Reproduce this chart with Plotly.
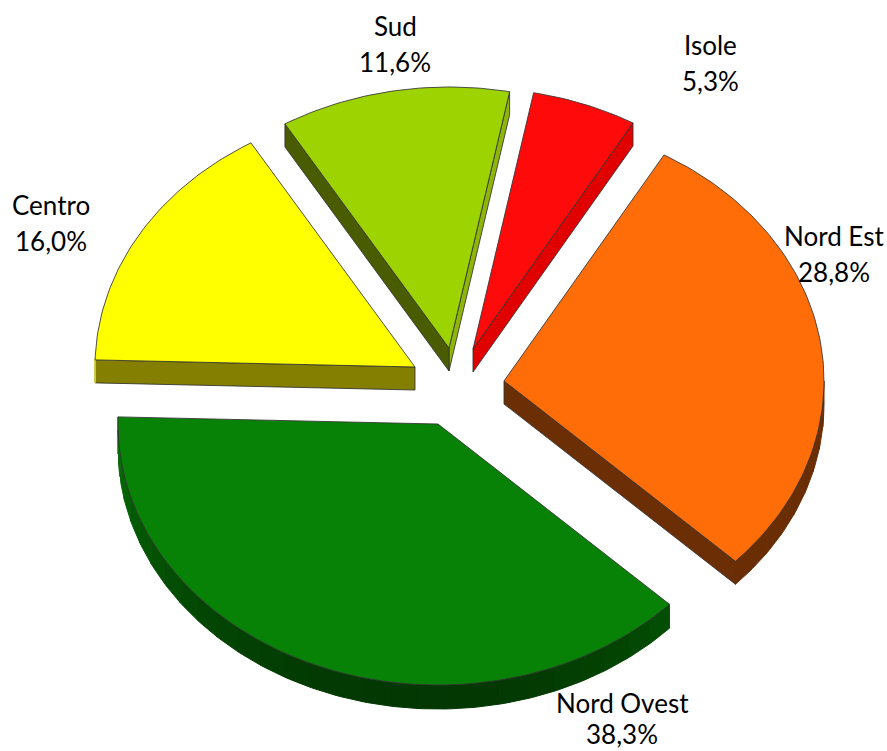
import math
import plotly.graph_objects as go

# Data
categories = ["Nord Est", "Nord Ovest", "Centro", "Sud", "Isole"]
shares = [28.8, 38.3, 16.0, 11.6, 5.3]

# Styling / layout constants
top_colors = ["#ff6d09", "#078207", "#ffff00", "#9dd300", "#ff0a0a"]
cut_colors = ["#6b2e05", None, "#857f00", "#4a5c00", "#e00000"]
cut_side = [1, None, 0, 0, 1]  # which radial edge of the slice shows a wall
right_cut_colors = [None, None, None, "#8eb50a", None]
apex_x = [504, 438, 415, 449, 473]
apex_y = [381, 424, 367, 348, 349]
label_x = [834, 622, 51, 395, 710]
label_y = [236, 703, 205, 26, 45]
value_gap = [36, 31, 36, 36, 36]
RX, RY, DEPTH = 320, 261, 23
START_ANGLE = 30.0
EDGE = "rgba(50,50,50,0.85)"
FONT = dict(family="Lato, Carlito, sans-serif", size=26, color="#000000")


def pt(ax, ay, deg, dy=0.0):
    t = math.radians(deg)
    return ax + RX * math.sin(t), ay - RY * math.cos(t) + dy


def arc(ax, ay, a0, a1, dy=0.0, step=1.0):
    n = max(2, int(abs(a1 - a0) / step) + 1)
    return [pt(ax, ay, a0 + (a1 - a0) * i / (n - 1), dy) for i in range(n)]


def scale(color, f):
    r, g, b = (int(color[i:i + 2], 16) for i in (1, 3, 5))
    return f"rgb({int(r * f)},{int(g * f)},{int(b * f)})"


def poly(pts, fill, line=None, width=1):
    xs = [p[0] for p in pts] + [pts[0][0]]
    ys = [p[1] for p in pts] + [pts[0][1]]
    return go.Scatter(x=xs, y=ys, mode="lines", fill="toself", fillcolor=fill,
                      line=dict(color=line or fill, width=width),
                      hoverinfo="skip", showlegend=False)


def wall_factor(i, deg):
    if i == 0:  # Nord Est: nearly flat brown
        return 0.42
    if deg >= 180:
        return 0.43 + 0.42 * ((deg - 180) / 90) ** 2
    return 0.43 + 0.22 * ((180 - deg) / 50) ** 2


# cumulative angles computed from the shares
bounds = []
a = START_ANGLE
for s in shares:
    bounds.append((a, a + s * 3.6))
    a += s * 3.6

fig = go.Figure()
for i in [4, 3, 2, 0, 1]:  # back to front
    ax, ay = apex_x[i], apex_y[i]
    a0, a1 = bounds[i]
    col = top_colors[i]

    # narrow lit wall on the clockwise end (Sud only)
    if right_cut_colors[i]:
        p = pt(ax, ay, a1)
        fig.add_trace(poly([(ax, ay), p, (p[0], p[1] + DEPTH), (ax, ay + DEPTH)], right_cut_colors[i], EDGE))

    # main radial wall
    if cut_side[i] is not None:
        p = pt(ax, ay, bounds[i][cut_side[i]])
        fig.add_trace(poly([(ax, ay), p, (p[0], p[1] + DEPTH), (ax, ay + DEPTH)], cut_colors[i], EDGE))

    # outer rim, in shaded strips
    lo, hi = max(a0, 90.0), min(a1, 272.0)
    if hi > lo:
        step = 5.0
        d = lo
        while d < hi:
            e = min(d + step, hi)
            strip = arc(ax, ay, d, e) + arc(ax, ay, e, d, DEPTH + (1 if i == 1 else 0))
            fig.add_trace(poly(strip, scale(col, wall_factor(i, (d + e) / 2))))
            d = e

    # top surface
    fig.add_trace(poly([(ax, ay)] + arc(ax, ay, a0, a1), col, EDGE))

# labels
for i, name in enumerate(categories):
    value = f"{shares[i]:.1f}%".replace(".", ",")
    fig.add_annotation(x=label_x[i], y=label_y[i], text=name, showarrow=False, font=FONT,
                       xref="x", yref="y", xanchor="center", yanchor="middle")
    fig.add_annotation(x=label_x[i], y=label_y[i] + value_gap[i], text=value, showarrow=False, font=FONT,
                       xref="x", yref="y", xanchor="center", yanchor="middle")

fig.update_layout(
    width=887, height=751, autosize=False,
    margin=dict(l=0, r=0, t=0, b=0),
    paper_bgcolor="white", plot_bgcolor="white", showlegend=False,
    xaxis=dict(range=[0, 887], visible=False, fixedrange=True),
    yaxis=dict(range=[751, 0], visible=False, fixedrange=True),
)
fig.write_html("out.html", config=dict(displayModeBar=False),
               post_script="document.body.style.margin='0';document.documentElement.style.overflow='hidden';")
